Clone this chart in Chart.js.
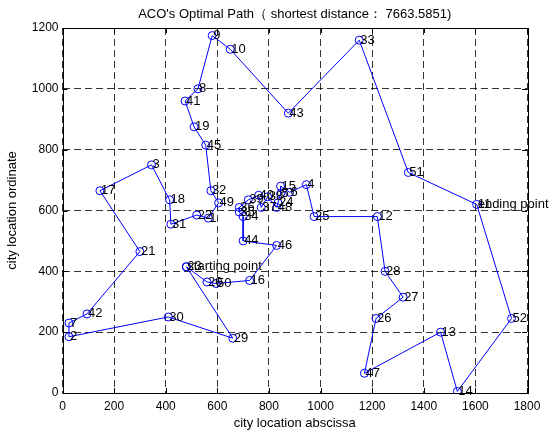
<!DOCTYPE html>
<html>
<head>
<meta charset="utf-8">
<script src="https://cdn.jsdelivr.net/npm/chart.js@4/dist/chart.umd.min.js"></script>
<style>
  html, body { margin: 0; padding: 0; background: #fff; }
  #wrap { width: 550px; height: 434px; }
</style>
</head>
<body>
<div id="wrap"><canvas id="grafico"></canvas></div>
<script>
// coordenadas das cidades (berlin52)
const cidadeX = [565, 25, 345, 945, 845, 880, 25, 525, 580, 650, 1605, 1220, 1465, 1530, 845, 725, 145, 415, 510, 560,
  300, 520, 480, 835, 975, 1215, 1320, 1250, 660, 410, 420, 575, 1150, 700, 685, 685, 770, 795, 720, 760,
  475, 95, 875, 700, 555, 830, 1170, 830, 605, 595, 1340, 1740];
const cidadeY = [575, 185, 750, 685, 655, 660, 230, 1000, 1175, 1130, 620, 580, 200, 5, 680, 370, 665, 635, 875, 365,
  465, 585, 415, 625, 580, 245, 315, 400, 180, 250, 555, 665, 1160, 580, 595, 610, 610, 645, 635, 650,
  960, 260, 920, 500, 815, 485, 65, 610, 625, 360, 725, 245];

// rota encontrada pelo ACO
const rota = [23, 29, 30, 2, 7, 42, 21, 17, 3, 18, 31, 22, 1, 49, 32, 45, 19, 41, 8, 9, 10, 43, 33, 51, 11, 52,
  14, 13, 47, 26, 27, 28, 12, 25, 4, 6, 15, 5, 24, 48, 38, 37, 40, 39, 36, 35, 34, 44, 46, 16, 50, 20, 23];

const cidadeInicio = 23;
const cidadeFim = 11;

const ticksX = [0, 200, 400, 600, 800, 1000, 1200, 1400, 1600, 1800];
const ticksY = [0, 200, 400, 600, 800, 1000, 1200];

const titulo = "ACO's Optimal Path（ shortest distance： 7663.5851)";

const fonte = '"Liberation Sans", Arial, Helvetica, sans-serif';

const pontosRota = rota.map(c => ({ x: cidadeX[c - 1], y: cidadeY[c - 1] }));

// desenha numeros das cidades, titulo e a caixa com ticks internos
const rotulos = {
  id: 'rotulos',
  afterDatasetsDraw(chart) {
    const ctx = chart.ctx;
    const sx = chart.scales.x, sy = chart.scales.y;
    ctx.save();
    ctx.fillStyle = '#000';
    ctx.font = '13px ' + fonte;
    ctx.textAlign = 'left';
    ctx.textBaseline = 'middle';
    for (let i = 0; i < cidadeX.length; i++) {
      ctx.fillText(String(i + 1), sx.getPixelForValue(cidadeX[i]) + 1, sy.getPixelForValue(cidadeY[i]));
    }
    ctx.fillText('starting point', sx.getPixelForValue(cidadeX[cidadeInicio - 1]) + 1, sy.getPixelForValue(cidadeY[cidadeInicio - 1]));
    ctx.fillText('ending point', sx.getPixelForValue(cidadeX[cidadeFim - 1]) + 1, sy.getPixelForValue(cidadeY[cidadeFim - 1]));

    const a = chart.chartArea;
    ctx.strokeStyle = '#000';
    ctx.lineWidth = 1;
    ctx.beginPath();
    ticksX.forEach(v => {
      const p = Math.round(sx.getPixelForValue(v)) + 0.5;
      ctx.moveTo(p, a.bottom); ctx.lineTo(p, a.bottom - 5);
      ctx.moveTo(p, a.top); ctx.lineTo(p, a.top + 5);
    });
    ticksY.forEach(v => {
      const p = Math.round(sy.getPixelForValue(v)) + 0.5;
      ctx.moveTo(a.left, p); ctx.lineTo(a.left + 5, p);
      ctx.moveTo(a.right, p); ctx.lineTo(a.right - 5, p);
    });
    ctx.stroke();
    ctx.strokeRect(Math.round(a.left) + 0.5, Math.round(a.top) + 0.5, Math.round(a.right - a.left), Math.round(a.bottom - a.top));

    ctx.font = '13px ' + fonte;
    ctx.textAlign = 'center';
    ctx.fillText(titulo, (a.left + a.right) / 2, 14);
    ctx.restore();
  }
};

const grade = {
  color: '#000',
  lineWidth: 0.8,
  drawTicks: false
};

new Chart(document.getElementById('grafico'), {
  type: 'scatter',
  data: {
    datasets: [{
      data: pontosRota,
      showLine: true,
      borderColor: '#0000ff',
      borderWidth: 1,
      pointStyle: 'circle',
      pointRadius: 4,
      pointBorderWidth: 1,
      pointBorderColor: '#0000ff',
      pointBackgroundColor: 'rgba(0,0,0,0)',
      tension: 0
    }]
  },
  options: {
    responsive: true,
    maintainAspectRatio: false,
    animation: false,
    layout: { padding: { top: 28, right: 23, left: 0, bottom: 0 } },
    plugins: {
      legend: { display: false },
      tooltip: { enabled: false }
    },
    scales: {
      x: {
        type: 'linear',
        min: 0,
        max: 1800,
        afterBuildTicks: s => { s.ticks = ticksX.map(v => ({ value: v })); },
        afterFit: s => { s.height = 41; },
        grid: grade,
        border: { display: false, dash: [7, 4] },
        ticks: { color: '#000', padding: 6, font: { family: fonte, size: 12 }, maxRotation: 0, callback: v => String(v) },
        title: { display: true, text: 'city location abscissa', color: '#000', padding: { top: 1, bottom: 3 }, font: { family: fonte, size: 13 } }
      },
      y: {
        type: 'linear',
        min: 0,
        max: 1200,
        afterBuildTicks: s => { s.ticks = ticksY.map(v => ({ value: v })); },
        afterFit: s => { s.width = 62.5; },
        grid: grade,
        border: { display: false, dash: [7, 4] },
        ticks: { color: '#000', padding: 4, font: { family: fonte, size: 12 }, callback: v => String(v) },
        title: { display: true, text: 'city location ordinate', color: '#000', padding: { top: 5, bottom: 2 }, font: { family: fonte, size: 13 } }
      }
    }
  },
  plugins: [rotulos]
});
</script>
</body>
</html>
